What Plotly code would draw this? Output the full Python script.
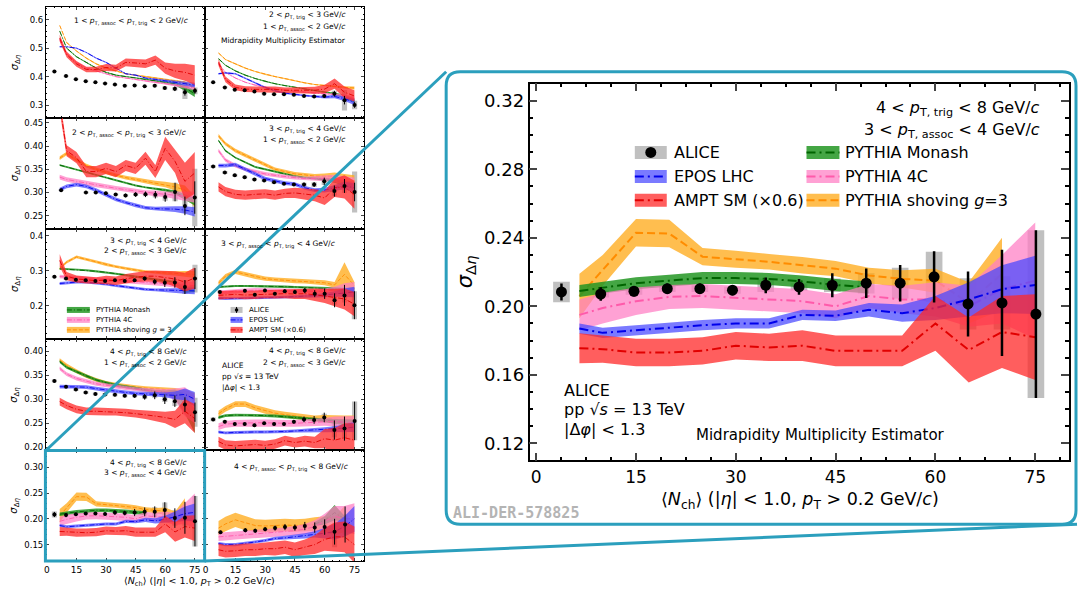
import plotly.graph_objects as go

W, H = 1078, 590
FONT = "DejaVu Sans"
TEAL = "#2b9fbd"

# ---------------- data ----------------
MODEL_X = [6.5, 10, 15, 20, 25, 30, 35, 40, 45, 50, 55, 60, 65, 70, 75]
ALICE_X_FULL = [3.8, 9.7, 14.7, 19.7, 24.6, 29.5, 34.5, 39.5, 44.5, 49.6, 54.7, 59.8, 64.9, 70.0, 75.1]
ALICE_X_SAME = [7.2, 19.8, 24.8, 29.9, 34.9, 39.9, 45.0, 50.0, 55.0, 60.0, 65.0, 70.0, 75.0]
ALICE_X_SAME8 = [7.5, 20.0, 25.0, 30.0, 35.0, 40.0, 45.0, 50.0, 55.0, 60.0, 65.0, 70.3]
P52_MON_X = [55, 60, 65, 70]

# panel (1,1): 1 < pT,assoc < pT,trig < 2
P11_ALICE = [0.418, 0.402, 0.391, 0.384, 0.380, 0.376, 0.372, 0.368, 0.369, 0.366, 0.368, 0.360, 0.357, 0.345, 0.350]
P11_STAT = [0.003, 0.003, 0.003, 0.003, 0.003, 0.003, 0.003, 0.003, 0.003, 0.003, 0.004, 0.005, 0.008, 0.012, 0.010]
P11_SYS = [0.003, 0.003, 0.003, 0.003, 0.003, 0.003, 0.003, 0.003, 0.003, 0.003, 0.004, 0.005, 0.006, 0.024, 0.012]
P11_SHOV = [0.580, 0.520, 0.490, 0.465, 0.445, 0.430, 0.420, 0.410, 0.405, 0.400, 0.395, 0.390, 0.385, 0.380, 0.360]
P11_SHOV_W = [0.002, 0.002, 0.002, 0.002, 0.002, 0.002, 0.002, 0.002, 0.002, 0.002, 0.002, 0.003, 0.003, 0.004, 0.005]
P11_MON = [0.560, 0.500, 0.470, 0.450, 0.430, 0.415, 0.405, 0.400, 0.395, 0.390, 0.385, 0.380, 0.375, 0.360, 0.340]
P11_MON_W = [0.002, 0.002, 0.002, 0.002, 0.002, 0.002, 0.002, 0.002, 0.002, 0.002, 0.002, 0.004, 0.006, 0.010, 0.012]
P11_4C = [0.530, 0.480, 0.450, 0.430, 0.420, 0.410, 0.400, 0.395, 0.390, 0.385, 0.380, 0.375, 0.370, 0.365, 0.360]
P11_4C_W = [0.002, 0.002, 0.002, 0.002, 0.002, 0.002, 0.002, 0.002, 0.002, 0.002, 0.003, 0.003, 0.004, 0.006, 0.008]
P11_EPOS = [0.505, 0.505, 0.500, 0.485, 0.465, 0.450, 0.430, 0.410, 0.405, 0.395, 0.390, 0.385, 0.380, 0.375, 0.370]
P11_EPOS_W = [0.002, 0.002, 0.002, 0.002, 0.002, 0.002, 0.002, 0.002, 0.002, 0.002, 0.003, 0.004, 0.005, 0.006, 0.008]
P11_AMPT = [0.535, 0.478, 0.445, 0.425, 0.425, 0.432, 0.430, 0.450, 0.448, 0.445, 0.458, 0.430, 0.420, 0.415, 0.405]
P11_AMPT_W = [0.012, 0.010, 0.010, 0.010, 0.010, 0.012, 0.012, 0.014, 0.014, 0.015, 0.016, 0.020, 0.025, 0.030, 0.035]

# panel (1,2): 2 < pT,trig < 3, 1 < pT,assoc < 2
P12_ALICE = [0.380, 0.362, 0.354, 0.352, 0.348, 0.340, 0.338, 0.338, 0.336, 0.332, 0.330, 0.332, 0.340, 0.317, 0.300]
P12_STAT = [0.003, 0.003, 0.003, 0.003, 0.003, 0.003, 0.003, 0.003, 0.003, 0.004, 0.004, 0.006, 0.010, 0.015, 0.010]
P12_SYS = [0.003, 0.003, 0.003, 0.003, 0.003, 0.003, 0.003, 0.003, 0.003, 0.003, 0.004, 0.005, 0.010, 0.036, 0.015]
P12_SHOV = [0.483, 0.460, 0.445, 0.430, 0.418, 0.408, 0.400, 0.393, 0.385, 0.378, 0.372, 0.368, 0.365, 0.362, 0.360]
P12_SHOV_W = [0.002, 0.002, 0.002, 0.002, 0.002, 0.002, 0.002, 0.002, 0.002, 0.002, 0.002, 0.003, 0.003, 0.004, 0.005]
P12_MON = [0.463, 0.440, 0.420, 0.405, 0.393, 0.383, 0.375, 0.368, 0.362, 0.356, 0.350, 0.345, 0.340, 0.330, 0.315]
P12_MON_W = [0.002, 0.002, 0.002, 0.002, 0.002, 0.002, 0.002, 0.002, 0.002, 0.002, 0.002, 0.003, 0.004, 0.006, 0.008]
P12_4C = [0.445, 0.415, 0.395, 0.380, 0.370, 0.362, 0.356, 0.352, 0.348, 0.345, 0.342, 0.340, 0.338, 0.332, 0.322]
P12_4C_W = [0.002, 0.002, 0.002, 0.002, 0.002, 0.002, 0.002, 0.002, 0.002, 0.002, 0.003, 0.003, 0.004, 0.006, 0.008]
P12_EPOS = [0.410, 0.413, 0.410, 0.395, 0.378, 0.362, 0.350, 0.342, 0.337, 0.333, 0.330, 0.328, 0.330, 0.322, 0.310]
P12_EPOS_W = [0.003, 0.003, 0.003, 0.003, 0.003, 0.003, 0.003, 0.003, 0.003, 0.003, 0.004, 0.005, 0.006, 0.008, 0.010]
P12_AMPT = [0.450, 0.390, 0.362, 0.356, 0.355, 0.355, 0.355, 0.352, 0.352, 0.352, 0.352, 0.356, 0.375, 0.345, 0.332]
P12_AMPT_W = [0.012, 0.010, 0.010, 0.010, 0.010, 0.010, 0.010, 0.010, 0.010, 0.011, 0.012, 0.015, 0.018, 0.020, 0.020]

# panel (2,1): 2 < pT,assoc < pT,trig < 3
P21_ALICE = [0.305, 0.300, 0.300, 0.2985, 0.2955, 0.2935, 0.2955, 0.296, 0.295, 0.290, 0.301, 0.271, 0.289]
P21_STAT = [0.003, 0.003, 0.003, 0.003, 0.003, 0.004, 0.005, 0.006, 0.008, 0.010, 0.020, 0.020, 0.035]
P21_SYS = [0.002, 0.002, 0.002, 0.002, 0.002, 0.003, 0.003, 0.004, 0.006, 0.008, 0.020, 0.015, 0.062]
P21_SHOV = [0.374, 0.384, 0.370, 0.358, 0.350, 0.343, 0.337, 0.332, 0.328, 0.324, 0.320, 0.317, 0.312, 0.305, 0.280]
P21_SHOV_W = [0.004, 0.004, 0.004, 0.004, 0.004, 0.004, 0.004, 0.004, 0.004, 0.004, 0.005, 0.006, 0.008, 0.010, 0.012]
P21_MON = [0.359, 0.355, 0.350, 0.344, 0.338, 0.332, 0.326, 0.320, 0.315, 0.311, 0.308, 0.305, 0.300, 0.290, 0.280]
P21_MON_W = [0.002, 0.002, 0.002, 0.002, 0.002, 0.002, 0.002, 0.002, 0.002, 0.002, 0.003, 0.003, 0.004, 0.006, 0.008]
P21_4C = [0.333, 0.328, 0.324, 0.320, 0.316, 0.312, 0.309, 0.306, 0.303, 0.300, 0.298, 0.296, 0.294, 0.292, 0.290]
P21_4C_W = [0.005, 0.005, 0.005, 0.005, 0.005, 0.005, 0.005, 0.005, 0.005, 0.005, 0.006, 0.006, 0.008, 0.010, 0.012]
P21_EPOS = [0.306, 0.313, 0.317, 0.313, 0.305, 0.295, 0.285, 0.278, 0.272, 0.267, 0.265, 0.265, 0.264, 0.262, 0.258]
P21_EPOS_W = [0.004, 0.004, 0.004, 0.004, 0.004, 0.004, 0.004, 0.004, 0.004, 0.004, 0.004, 0.005, 0.006, 0.008, 0.010]
P21_AMPT = [0.490, 0.390, 0.375, 0.345, 0.345, 0.352, 0.345, 0.358, 0.352, 0.374, 0.345, 0.395, 0.367, 0.324, 0.342]
P21_AMPT_W = [0.015, 0.012, 0.012, 0.012, 0.012, 0.012, 0.012, 0.012, 0.012, 0.014, 0.014, 0.025, 0.025, 0.040, 0.045]

# panel (2,2): 3 < pT,trig < 4, 1 < pT,assoc < 2
P22_ALICE = [0.356, 0.343, 0.337, 0.333, 0.328, 0.326, 0.322, 0.319, 0.317, 0.317, 0.317, 0.324, 0.303, 0.314, 0.301]
P22_STAT = [0.003, 0.003, 0.003, 0.003, 0.003, 0.003, 0.003, 0.003, 0.003, 0.004, 0.005, 0.008, 0.012, 0.015, 0.020]
P22_SYS = [0.003, 0.003, 0.003, 0.003, 0.003, 0.003, 0.003, 0.003, 0.003, 0.004, 0.005, 0.008, 0.010, 0.015, 0.044]
P22_SHOV = [0.422, 0.405, 0.390, 0.380, 0.370, 0.360, 0.350, 0.345, 0.340, 0.338, 0.335, 0.335, 0.335, 0.330, 0.325]
P22_SHOV_W = [0.004, 0.004, 0.004, 0.004, 0.004, 0.004, 0.004, 0.004, 0.004, 0.004, 0.005, 0.006, 0.008, 0.010, 0.012]
P22_MON = [0.412, 0.390, 0.375, 0.365, 0.355, 0.350, 0.345, 0.340, 0.335, 0.332, 0.330, 0.328, 0.325, 0.320, 0.315]
P22_MON_W = [0.002, 0.002, 0.002, 0.002, 0.002, 0.002, 0.002, 0.002, 0.002, 0.002, 0.003, 0.003, 0.004, 0.006, 0.008]
P22_4C = [0.390, 0.370, 0.358, 0.350, 0.345, 0.340, 0.337, 0.334, 0.332, 0.330, 0.330, 0.330, 0.330, 0.325, 0.320]
P22_4C_W = [0.004, 0.004, 0.004, 0.004, 0.004, 0.004, 0.004, 0.004, 0.004, 0.004, 0.005, 0.006, 0.008, 0.010, 0.012]
P22_EPOS = [0.358, 0.358, 0.360, 0.350, 0.340, 0.330, 0.325, 0.320, 0.318, 0.310, 0.305, 0.305, 0.310, 0.315, 0.310]
P22_EPOS_W = [0.004, 0.004, 0.004, 0.004, 0.004, 0.004, 0.004, 0.004, 0.004, 0.004, 0.004, 0.005, 0.006, 0.008, 0.010]
P22_AMPT = [0.312, 0.302, 0.296, 0.294, 0.296, 0.297, 0.294, 0.298, 0.299, 0.297, 0.294, 0.288, 0.310, 0.312, 0.295]
P22_AMPT_W = [0.010, 0.010, 0.010, 0.010, 0.010, 0.010, 0.010, 0.010, 0.011, 0.012, 0.013, 0.015, 0.020, 0.025, 0.030]

# panel (3,1): 3 < pT,trig < 4, 2 < pT,assoc < 3
P31_ALICE = [0.283, 0.278, 0.275, 0.273, 0.271, 0.271, 0.273, 0.271, 0.273, 0.278, 0.269, 0.266, 0.267, 0.254, 0.278]
P31_STAT = [0.003, 0.003, 0.003, 0.003, 0.003, 0.003, 0.003, 0.003, 0.004, 0.006, 0.008, 0.012, 0.015, 0.020, 0.030]
P31_SYS = [0.003, 0.003, 0.003, 0.003, 0.003, 0.003, 0.003, 0.003, 0.003, 0.004, 0.005, 0.006, 0.010, 0.020, 0.040]
P31_SHOV = [0.307, 0.325, 0.340, 0.333, 0.326, 0.318, 0.312, 0.307, 0.302, 0.298, 0.296, 0.294, 0.293, 0.292, 0.290]
P31_SHOV_W = [0.004, 0.004, 0.004, 0.004, 0.004, 0.004, 0.004, 0.004, 0.004, 0.004, 0.004, 0.005, 0.006, 0.008, 0.010]
P31_MON = [0.306, 0.305, 0.304, 0.302, 0.299, 0.296, 0.292, 0.288, 0.284, 0.280, 0.276, 0.272, 0.265, 0.245, 0.250]
P31_MON_W = [0.003, 0.003, 0.003, 0.003, 0.003, 0.003, 0.003, 0.003, 0.003, 0.003, 0.004, 0.005, 0.006, 0.008, 0.010]
P31_4C = [0.284, 0.282, 0.280, 0.278, 0.276, 0.274, 0.272, 0.270, 0.268, 0.266, 0.264, 0.262, 0.260, 0.258, 0.258]
P31_4C_W = [0.005, 0.005, 0.005, 0.005, 0.005, 0.005, 0.005, 0.005, 0.005, 0.005, 0.006, 0.006, 0.008, 0.010, 0.012]
P31_EPOS = [0.264, 0.266, 0.268, 0.268, 0.266, 0.262, 0.258, 0.254, 0.250, 0.247, 0.246, 0.245, 0.244, 0.243, 0.243]
P31_EPOS_W = [0.004, 0.004, 0.004, 0.004, 0.004, 0.004, 0.004, 0.004, 0.004, 0.004, 0.004, 0.005, 0.006, 0.008, 0.010]
P31_AMPT = [0.330, 0.285, 0.277, 0.274, 0.272, 0.274, 0.272, 0.278, 0.282, 0.285, 0.285, 0.282, 0.277, 0.268, 0.280]
P31_AMPT_W = [0.018, 0.012, 0.010, 0.010, 0.010, 0.012, 0.012, 0.013, 0.014, 0.015, 0.016, 0.018, 0.022, 0.027, 0.030]

# panel (3,2): 3 < pT,assoc < pT,trig < 4
P32_ALICE = [0.240, 0.243, 0.232, 0.244, 0.235, 0.242, 0.240, 0.244, 0.235, 0.235, 0.216, 0.230, 0.202]
P32_STAT = [0.003, 0.004, 0.004, 0.004, 0.004, 0.005, 0.006, 0.008, 0.010, 0.015, 0.020, 0.030, 0.040]
P32_SYS = [0.004, 0.003, 0.003, 0.003, 0.003, 0.003, 0.004, 0.005, 0.006, 0.008, 0.012, 0.020, 0.040]
P32_SHOV = [0.265, 0.285, 0.297, 0.290, 0.283, 0.278, 0.275, 0.273, 0.271, 0.270, 0.268, 0.266, 0.260, 0.290, 0.258]
P32_SHOV_W = [0.006, 0.006, 0.006, 0.006, 0.006, 0.006, 0.006, 0.006, 0.006, 0.006, 0.006, 0.007, 0.008, 0.035, 0.010]
P32_MON = [0.254, 0.256, 0.257, 0.257, 0.257, 0.257, 0.256, 0.255, 0.254, 0.253, 0.252, 0.250, 0.248, 0.246, 0.244]
P32_MON_W = [0.003, 0.003, 0.003, 0.003, 0.003, 0.003, 0.003, 0.003, 0.003, 0.003, 0.003, 0.004, 0.005, 0.006, 0.008]
P32_4C = [0.238, 0.240, 0.242, 0.244, 0.245, 0.245, 0.245, 0.244, 0.243, 0.242, 0.242, 0.242, 0.245, 0.250, 0.248]
P32_4C_W = [0.006, 0.006, 0.006, 0.006, 0.006, 0.006, 0.006, 0.006, 0.006, 0.006, 0.007, 0.008, 0.010, 0.015, 0.020]
P32_EPOS = [0.222, 0.221, 0.221, 0.222, 0.222, 0.223, 0.224, 0.225, 0.226, 0.227, 0.229, 0.231, 0.234, 0.238, 0.240]
P32_EPOS_W = [0.004, 0.004, 0.004, 0.004, 0.004, 0.004, 0.004, 0.004, 0.004, 0.004, 0.005, 0.006, 0.008, 0.012, 0.015]
P32_AMPT = [0.230, 0.232, 0.233, 0.231, 0.232, 0.234, 0.233, 0.235, 0.234, 0.235, 0.232, 0.228, 0.225, 0.220, 0.205]
P32_AMPT_W = [0.012, 0.012, 0.012, 0.012, 0.012, 0.012, 0.012, 0.013, 0.014, 0.015, 0.018, 0.020, 0.025, 0.030, 0.035]

# panel (4,1): 4 < pT,trig < 8, 1 < pT,assoc < 2
P41_ALICE = [0.338, 0.326, 0.320, 0.314, 0.311, 0.310, 0.309, 0.307, 0.307, 0.305, 0.308, 0.300, 0.296, 0.289, 0.273]
P41_STAT = [0.003, 0.003, 0.003, 0.003, 0.003, 0.003, 0.003, 0.003, 0.004, 0.006, 0.008, 0.010, 0.012, 0.015, 0.020]
P41_SYS = [0.003, 0.003, 0.003, 0.003, 0.003, 0.003, 0.003, 0.003, 0.003, 0.004, 0.005, 0.006, 0.010, 0.020, 0.030]
P41_SHOV = [0.381, 0.370, 0.358, 0.348, 0.340, 0.334, 0.330, 0.327, 0.325, 0.323, 0.322, 0.320, 0.317, 0.312, 0.305]
P41_SHOV_W = [0.004, 0.004, 0.004, 0.004, 0.004, 0.004, 0.004, 0.004, 0.004, 0.004, 0.004, 0.005, 0.006, 0.007, 0.008]
P41_MON = [0.378, 0.366, 0.357, 0.348, 0.340, 0.334, 0.329, 0.326, 0.322, 0.319, 0.316, 0.314, 0.310, 0.290, 0.255]
P41_MON_W = [0.003, 0.003, 0.003, 0.003, 0.003, 0.003, 0.003, 0.003, 0.003, 0.003, 0.003, 0.004, 0.010, 0.020, 0.025]
P41_4C = [0.364, 0.352, 0.343, 0.337, 0.332, 0.329, 0.326, 0.323, 0.321, 0.319, 0.317, 0.315, 0.310, 0.295, 0.280]
P41_4C_W = [0.004, 0.004, 0.004, 0.004, 0.004, 0.004, 0.004, 0.004, 0.004, 0.004, 0.005, 0.006, 0.012, 0.030, 0.030]
P41_EPOS = [0.326, 0.326, 0.326, 0.325, 0.322, 0.319, 0.316, 0.314, 0.312, 0.311, 0.310, 0.309, 0.308, 0.310, 0.300]
P41_EPOS_W = [0.004, 0.004, 0.004, 0.004, 0.004, 0.004, 0.004, 0.004, 0.004, 0.004, 0.004, 0.005, 0.008, 0.012, 0.015]
P41_AMPT = [0.295, 0.287, 0.279, 0.275, 0.275, 0.274, 0.274, 0.272, 0.270, 0.268, 0.265, 0.262, 0.258, 0.275, 0.260]
P41_AMPT_W = [0.008, 0.008, 0.008, 0.008, 0.008, 0.008, 0.008, 0.008, 0.008, 0.009, 0.010, 0.012, 0.018, 0.025, 0.030]

# panel (4,2): 4 < pT,trig < 8, 2 < pT,assoc < 3
P42_ALICE = [0.258, 0.253, 0.2485, 0.2485, 0.246, 0.250, 0.2485, 0.2485, 0.253, 0.258, 0.257, 0.262, 0.236, 0.239, 0.255]
P42_STAT = [0.003, 0.003, 0.003, 0.003, 0.003, 0.003, 0.003, 0.003, 0.004, 0.006, 0.008, 0.010, 0.020, 0.025, 0.040]
P42_SYS = [0.004, 0.003, 0.003, 0.003, 0.003, 0.003, 0.003, 0.003, 0.003, 0.004, 0.005, 0.008, 0.015, 0.020, 0.040]
P42_SHOV = [0.270, 0.280, 0.290, 0.290, 0.282, 0.276, 0.271, 0.268, 0.265, 0.262, 0.260, 0.260, 0.258, 0.257, 0.256]
P42_SHOV_W = [0.006, 0.006, 0.006, 0.006, 0.006, 0.006, 0.006, 0.006, 0.006, 0.006, 0.006, 0.007, 0.008, 0.009, 0.010]
P42_MON = [0.262, 0.266, 0.267, 0.267, 0.267, 0.266, 0.265, 0.264, 0.262, 0.260, 0.258, 0.256, 0.254, 0.252, 0.250]
P42_MON_W = [0.003, 0.003, 0.003, 0.003, 0.003, 0.003, 0.003, 0.003, 0.003, 0.003, 0.003, 0.004, 0.005, 0.006, 0.008]
P42_4C = [0.243, 0.248, 0.250, 0.251, 0.251, 0.251, 0.250, 0.250, 0.250, 0.251, 0.252, 0.253, 0.254, 0.252, 0.250]
P42_4C_W = [0.007, 0.007, 0.007, 0.007, 0.007, 0.007, 0.007, 0.007, 0.007, 0.007, 0.008, 0.008, 0.010, 0.012, 0.015]
P42_EPOS = [0.232, 0.230, 0.231, 0.232, 0.232, 0.232, 0.232, 0.233, 0.234, 0.235, 0.236, 0.237, 0.238, 0.240, 0.242]
P42_EPOS_W = [0.003, 0.003, 0.003, 0.003, 0.003, 0.003, 0.003, 0.003, 0.003, 0.003, 0.004, 0.005, 0.006, 0.008, 0.010]
P42_AMPT = [0.212, 0.205, 0.203, 0.204, 0.206, 0.204, 0.207, 0.214, 0.210, 0.213, 0.210, 0.218, 0.215, 0.220, 0.215]
P42_AMPT_W = [0.010, 0.010, 0.010, 0.010, 0.010, 0.010, 0.010, 0.010, 0.010, 0.011, 0.012, 0.020, 0.025, 0.030, 0.035]

# panel (5,1) and the enlarged panel: 4 < pT,trig < 8, 3 < pT,assoc < 4
P51_ALICE = [0.2084, 0.2072, 0.2088, 0.2103, 0.2103, 0.2094, 0.2123, 0.2113, 0.2123, 0.2135, 0.2135, 0.2172, 0.2014, 0.2020, 0.1955]
P51_STAT = [0.0050, 0.0040, 0.0030, 0.0030, 0.0030, 0.0030, 0.0046, 0.0046, 0.0070, 0.0086, 0.0107, 0.0150, 0.0190, 0.0310, 0.0490]
P51_SYS = [0.0060, 0.0020, 0.0020, 0.0020, 0.0020, 0.0020, 0.0040, 0.0020, 0.0040, 0.0060, 0.0090, 0.0146, 0.0150, 0.0155, 0.0490]
P51_SHOV = [0.206, 0.221, 0.243, 0.2425, 0.229, 0.2275, 0.226, 0.224, 0.222, 0.218, 0.216, 0.215, 0.202, 0.219]
P51_SHOV_W = [0.013, 0.009, 0.008, 0.008, 0.005, 0.005, 0.0045, 0.0048, 0.0045, 0.0045, 0.005, 0.007, 0.012, 0.021]
P51_MON = [0.209, 0.211, 0.2135, 0.215, 0.2165, 0.2165, 0.216, 0.2145, 0.2125, 0.211]
P51_MON_W = [0.0035, 0.0035, 0.0035, 0.0035, 0.0035, 0.0035, 0.0035, 0.0035, 0.0035, 0.0035]
P51_4C = [0.195, 0.199, 0.203, 0.2055, 0.206, 0.205, 0.204, 0.203, 0.200, 0.206, 0.204, 0.204, 0.200, 0.210, 0.215]
P51_4C_W = [0.009, 0.009, 0.008, 0.007, 0.007, 0.007, 0.007, 0.007, 0.007, 0.007, 0.008, 0.010, 0.012, 0.020, 0.034]
P51_EPOS = [0.187, 0.1845, 0.186, 0.1875, 0.189, 0.190, 0.190, 0.195, 0.1945, 0.198, 0.196, 0.199, 0.204, 0.210, 0.2125]
P51_EPOS_W = [0.003, 0.003, 0.003, 0.003, 0.003, 0.003, 0.003, 0.003, 0.003, 0.004, 0.005, 0.007, 0.010, 0.014, 0.017]
P51_AMPT = [0.1755, 0.175, 0.173, 0.173, 0.174, 0.177, 0.176, 0.177, 0.174, 0.174, 0.174, 0.190, 0.1745, 0.185, 0.182]
P51_AMPT_W = [0.0088, 0.008, 0.008, 0.008, 0.008, 0.008, 0.008, 0.009, 0.009, 0.009, 0.009, 0.016, 0.019, 0.021, 0.025]

# panel (5,2): 4 < pT,assoc < pT,trig < 8
P52_ALICE = [0.174, 0.178, 0.177, 0.180, 0.182, 0.184, 0.183, 0.186, 0.183, 0.184, 0.175, 0.189]
P52_STAT = [0.003, 0.004, 0.004, 0.004, 0.005, 0.006, 0.006, 0.008, 0.010, 0.015, 0.025, 0.035]
P52_SYS = [0.003, 0.003, 0.003, 0.003, 0.003, 0.003, 0.003, 0.004, 0.005, 0.008, 0.030, 0.020]
P52_SHOV = [0.182, 0.190, 0.198, 0.192, 0.187, 0.186, 0.187, 0.188, 0.187, 0.188, 0.190, 0.190, 0.185, 0.200]
P52_SHOV_W = [0.014, 0.014, 0.014, 0.014, 0.012, 0.012, 0.012, 0.012, 0.012, 0.012, 0.013, 0.015, 0.018, 0.025]
P52_MON = [0.190, 0.197, 0.212, 0.200]
P52_MON_W = [0.004, 0.008, 0.015, 0.006]
P52_4C = [0.165, 0.166, 0.168, 0.170, 0.171, 0.172, 0.173, 0.175, 0.177, 0.180, 0.185, 0.195, 0.205, 0.200, 0.200]
P52_4C_W = [0.008, 0.008, 0.008, 0.008, 0.008, 0.008, 0.008, 0.008, 0.009, 0.010, 0.012, 0.015, 0.020, 0.025, 0.030]
P52_EPOS = [0.152, 0.150, 0.150, 0.152, 0.155, 0.158, 0.162, 0.163, 0.165, 0.167, 0.170, 0.172, 0.175, 0.185, 0.200]
P52_EPOS_W = [0.003, 0.003, 0.003, 0.003, 0.003, 0.003, 0.003, 0.004, 0.004, 0.005, 0.006, 0.010, 0.015, 0.020, 0.025]
P52_AMPT = [0.140, 0.137, 0.138, 0.140, 0.140, 0.142, 0.142, 0.145, 0.140, 0.145, 0.150, 0.160, 0.165, 0.165, 0.150]
P52_AMPT_W = [0.012, 0.012, 0.012, 0.012, 0.012, 0.012, 0.013, 0.013, 0.014, 0.015, 0.018, 0.022, 0.028, 0.030, 0.035]

ROW_YRANGE = [[0.255, 0.645], [0.222, 0.461], [0.104, 0.421], [0.194, 0.424], [0.118, 0.333]]
BIG_YRANGE = [0.11, 0.33]
X_TICKS = [0, 15, 30, 45, 60, 75]

# ---------------- layout helpers ----------------
def px(x):
    return x / W


def py(y):
    return 1 - y / H


DASHDOT = "9px,4px,2px,4px"
DASHDOT_S = "5px,2px,1px,2px"
STYLE = {
    "shov": ("rgba(255,172,30,0.78)", "rgb(255,140,0)", "8px,4px", "4px,2px"),
    "mon": ("rgba(35,150,35,0.85)", "rgb(0,100,0)", DASHDOT, DASHDOT_S),
    "4c": ("rgba(255,125,195,0.72)", "rgb(255,90,170)", DASHDOT, DASHDOT_S),
    "epos": ("rgba(70,70,255,0.72)", "rgb(0,0,235)", DASHDOT, DASHDOT_S),
    "ampt": ("rgba(255,40,40,0.75)", "rgb(225,0,0)", DASHDOT, DASHDOT_S),
}

COL_X = [(44, 203), (203, 363)]
ROW_TOP = [7, 118.2, 229.4, 340.6, 451.8]
ROW_H = 111.2
ROW_DTICK = [0.1, 0.05, 0.1, 0.05, 0.05]
ROW_MINOR = [0.02, 0.01, 0.02, 0.01, 0.01]
ROW_FMT = [".1f", ".2f", ".1f", ".2f", ".2f"]


def models(pre, mon_x=None):
    g = globals()
    return [
        ("shov", MODEL_X, g[pre + "_SHOV"], g[pre + "_SHOV_W"]),
        ("mon", mon_x if mon_x else MODEL_X, g[pre + "_MON"], g[pre + "_MON_W"]),
        ("4c", MODEL_X, g[pre + "_4C"], g[pre + "_4C_W"]),
        ("epos", MODEL_X, g[pre + "_EPOS"], g[pre + "_EPOS_W"]),
        ("ampt", MODEL_X, g[pre + "_AMPT"], g[pre + "_AMPT_W"]),
    ]


PANELS = [
    (0, 0, ALICE_X_FULL, P11_ALICE, P11_STAT, P11_SYS, models("P11")),
    (0, 1, ALICE_X_FULL, P12_ALICE, P12_STAT, P12_SYS, models("P12")),
    (1, 0, ALICE_X_SAME, P21_ALICE, P21_STAT, P21_SYS, models("P21")),
    (1, 1, ALICE_X_FULL, P22_ALICE, P22_STAT, P22_SYS, models("P22")),
    (2, 0, ALICE_X_FULL, P31_ALICE, P31_STAT, P31_SYS, models("P31")),
    (2, 1, ALICE_X_SAME, P32_ALICE, P32_STAT, P32_SYS, models("P32")),
    (3, 0, ALICE_X_FULL, P41_ALICE, P41_STAT, P41_SYS, models("P41")),
    (3, 1, ALICE_X_FULL, P42_ALICE, P42_STAT, P42_SYS, models("P42")),
    (4, 0, ALICE_X_FULL, P51_ALICE, P51_STAT, P51_SYS, models("P51", MODEL_X[:10])),
    (4, 1, ALICE_X_SAME8, P52_ALICE, P52_STAT, P52_SYS, models("P52", P52_MON_X)),
]

fig = go.Figure()


def refs(i):
    return ("x" if i == 1 else f"x{i}"), ("y" if i == 1 else f"y{i}")


def draw_panel(i, ax, ay, stat, sys, mods, big):
    xr, yr = refs(i)
    for key, mx, c, w in mods:
        fill, line, dash_b, dash_s = STYLE[key]
        xs = list(mx)[:len(c)]
        up = [a + b for a, b in zip(c, w)]
        lo = [a - b for a, b in zip(c, w)]
        fig.add_trace(go.Scatter(x=xs + xs[::-1], y=up + lo[::-1], fill="toself", fillcolor=fill,
                                 mode="lines", line=dict(width=0, color=fill), xaxis=xr, yaxis=yr,
                                 hoverinfo="skip", showlegend=False))
        fig.add_trace(go.Scatter(x=xs, y=c, mode="lines",
                                 line=dict(color=line, width=2 if big else 0.9, dash=dash_b if big else dash_s),
                                 xaxis=xr, yaxis=yr, hoverinfo="skip", showlegend=False))
    fig.add_trace(go.Bar(x=ax, y=[2 * s for s in sys], base=[a - s for a, s in zip(ay, sys)],
                         width=2.5 if big else 2.6,
                         marker=dict(color="rgba(150,150,150,0.6)", line=dict(width=0)),
                         xaxis=xr, yaxis=yr, hoverinfo="skip", showlegend=False))
    fig.add_trace(go.Scatter(x=ax, y=ay, mode="markers",
                             marker=dict(color="black", size=11 if big else 4),
                             error_y=dict(type="data", array=stat, color="black",
                                          thickness=2.5 if big else 1, width=0),
                             xaxis=xr, yaxis=yr, hoverinfo="skip", showlegend=False))


layout_axes = {}
for k, (r, c, ax, ay, st, sy, mods) in enumerate(PANELS):
    i = k + 1
    draw_panel(i, ax, ay, st, sy, mods, False)
    xn = "xaxis" if i == 1 else f"xaxis{i}"
    yn = "yaxis" if i == 1 else f"yaxis{i}"
    x0, x1 = COL_X[c]
    top = ROW_TOP[r]
    layout_axes[xn] = dict(
        domain=[px(x0), px(x1)], anchor=refs(i)[1], range=[-0.5, 80],
        tickvals=X_TICKS, showticklabels=(r == 4), ticks="inside", ticklen=3,
        mirror="allticks", showline=True, linecolor="black", linewidth=1, showgrid=False,
        zeroline=False, tickfont=dict(family=FONT, size=9, color="black"),
        minor=dict(ticks="inside", ticklen=1.5, dtick=3.75, tick0=0, tickcolor="black"),
    )
    layout_axes[yn] = dict(
        domain=[py(top + ROW_H), py(top)], anchor=refs(i)[0], range=ROW_YRANGE[r],
        dtick=ROW_DTICK[r], tick0=0, tickformat=ROW_FMT[r], showticklabels=(c == 0),
        ticks="inside", ticklen=3, mirror="allticks", showline=True, linecolor="black",
        linewidth=1, showgrid=False, zeroline=False,
        tickfont=dict(family=FONT, size=8.5, color="black"),
        minor=dict(ticks="inside", ticklen=1.5, dtick=ROW_MINOR[r], tick0=0, tickcolor="black"),
    )

# big panel
BI = 11
draw_panel(BI, ALICE_X_FULL, P51_ALICE, P51_STAT, P51_SYS, models("P51", MODEL_X[:10]), True)
layout_axes["xaxis11"] = dict(
    domain=[px(528.5), px(1068.5)], anchor="y11", range=[-1, 80], tickvals=X_TICKS,
    ticks="inside", ticklen=8, tickwidth=1.5, mirror="allticks", showline=True, linecolor="black",
    linewidth=1.5, showgrid=False, zeroline=False, tickfont=dict(family=FONT, size=17, color="black"),
    minor=dict(ticks="inside", ticklen=4, dtick=3.75, tick0=0, tickcolor="black"),
)
layout_axes["yaxis11"] = dict(
    domain=[py(462), py(84)], anchor="x11", range=BIG_YRANGE, dtick=0.04, tick0=0,
    tickformat=".2f", ticks="inside", ticklen=8, tickwidth=1.5, mirror="allticks", showline=True,
    linecolor="black", linewidth=1.5, showgrid=False, zeroline=False,
    tickfont=dict(family=FONT, size=18, color="black"),
    minor=dict(ticks="inside", ticklen=4, dtick=0.01, tick0=0, tickcolor="black"),
)

# ---------------- annotations ----------------
ann = []


def text(x, y, s, size, xanchor="left", color="black", angle=0, family=FONT):
    ann.append(dict(x=px(x), y=py(y), xref="paper", yref="paper", text=s, showarrow=False,
                    xanchor=xanchor, yanchor="middle", textangle=angle,
                    font=dict(family=family, size=size, color=color)))


PT = "<i>p</i><sub>T, {}</sub>"
def rng(a, mid, b):
    return f"{a} < {mid} < {b} GeV/<i>c</i>"

SIG = "<i>σ</i><sub>Δ<i>η</i></sub>"
XT = "⟨<i>N</i><sub>ch</sub>⟩ (|<i>η</i>| < 1.0, <i>p</i><sub>T</sub> > 0.2 GeV/<i>c</i>)"

s = 7.5
text(130, 22, f"1 < {PT.format('assoc')} < {PT.format('trig')} < 2 GeV/<i>c</i>", s, "center")
text(347, 16, rng(2, PT.format("trig"), 3), s, "right")
text(347, 27, rng(1, PT.format("assoc"), 2), s, "right")
text(347, 41, "Midrapidity Multiplicity Estimator", s, "right")
text(128, 134, f"2 < {PT.format('assoc')} < {PT.format('trig')} < 3 GeV/<i>c</i>", s, "center")
text(347, 130, rng(3, PT.format("trig"), 4), s, "right")
text(347, 140, rng(1, PT.format("assoc"), 2), s, "right")
text(187, 242, rng(3, PT.format("trig"), 4), s, "right")
text(187, 252, rng(2, PT.format("assoc"), 3), s, "right")
text(277, 245, f"3 < {PT.format('assoc')} < {PT.format('trig')} < 4 GeV/<i>c</i>", s, "center")
text(187, 354, rng(4, PT.format("trig"), 8), s, "right")
text(187, 364, rng(1, PT.format("assoc"), 2), s, "right")
text(347, 353, rng(4, PT.format("trig"), 8), s, "right")
text(347, 364, rng(2, PT.format("assoc"), 3), s, "right")
text(218, 367, "ALICE", s)
text(218, 378, "pp √<i>s</i> = 13 TeV", s)
text(218, 389, "|Δ<i>φ</i>| < 1.3", s)
text(187, 465, rng(4, PT.format("trig"), 8), s, "right")
text(187, 475, rng(3, PT.format("assoc"), 4), s, "right")
text(290, 469, f"4 < {PT.format('assoc')} < {PT.format('trig')} < 8 GeV/<i>c</i>", s, "center")

for r in range(5):
    text(13, ROW_TOP[r] + ROW_H / 2, SIG, 10, "center", angle=-90)
text(198, 583, XT, 9.5, "center")

# big panel text
text(1042, 109, rng(4, PT.format("trig"), 8), 16, "right")
text(1042, 131, rng(3, PT.format("assoc"), 4), 16, "right")
text(561, 392, "ALICE", 16)
text(561, 411, "pp √<i>s</i> = 13 TeV", 16)
text(561, 431, "|Δ<i>φ</i>| < 1.3", 16)
text(820, 436, "Midrapidity Multiplicity Estimator", 15, "center")
text(465, 273, SIG, 21, "center", angle=-90)
text(799, 502, XT, 17.5, "center")
text(450, 515, "<b>ALI-DER-578825</b>", 15, color="#b4b4b4", family="DejaVu Sans Mono")

# ---------------- shapes (legends, zoom frame) ----------------
shapes = []


def rect(x0, y0, x1, y1, fill, line_color=None, lw=0, layer="above"):
    shapes.append(dict(type="rect", xref="paper", yref="paper", x0=px(x0), x1=px(x1), y0=py(y1), y1=py(y0),
                       fillcolor=fill, line=dict(width=lw, color=line_color or fill), layer=layer))


def seg(x0, y0, x1, y1, color, lw, dash="solid"):
    shapes.append(dict(type="line", xref="paper", yref="paper", x0=px(x0), y0=py(y0), x1=px(x1), y1=py(y1),
                       line=dict(color=color, width=lw, dash=dash), layer="above"))


def circle(cx, cy, rad, color):
    shapes.append(dict(type="circle", xref="paper", yref="paper", x0=px(cx - rad), x1=px(cx + rad),
                       y0=py(cy + rad), y1=py(cy - rad), fillcolor=color, line=dict(width=0), layer="above"))


def model_swatch(x0, x1, y, hh, key, big):
    fill, line, dash_b, dash_s = STYLE[key]
    rect(x0, y - hh, x1, y + hh, fill)
    seg(x0, y, x1, y, line, 2 if big else 1, dash_b if big else dash_s)


# big legend
LEG_ROWS = [153, 177, 201]
rect(634, LEG_ROWS[0] - 6.5, 666, LEG_ROWS[0] + 6.5, "rgba(150,150,150,0.6)")
circle(650, LEG_ROWS[0], 5.5, "black")
text(671, LEG_ROWS[0], "ALICE", 16)
model_swatch(634, 666, LEG_ROWS[1], 6.5, "epos", True)
text(671, LEG_ROWS[1], "EPOS LHC", 16)
model_swatch(634, 666, LEG_ROWS[2], 6.5, "ampt", True)
text(671, LEG_ROWS[2], "AMPT SM (×0.6)", 16)
model_swatch(806, 839, LEG_ROWS[0], 6.5, "mon", True)
text(843, LEG_ROWS[0], "PYTHIA Monash", 16)
model_swatch(806, 839, LEG_ROWS[1], 6.5, "4c", True)
text(843, LEG_ROWS[1], "PYTHIA 4C", 16)
model_swatch(806, 839, LEG_ROWS[2], 6.5, "shov", True)
text(843, LEG_ROWS[2], "PYTHIA shoving <i>g</i>=3", 16)

# small legends
SL_ROWS = [311, 321, 331]
model_swatch(65, 88, SL_ROWS[0], 3, "mon", False)
text(92, SL_ROWS[0], "PYTHIA Monash", 7)
model_swatch(65, 88, SL_ROWS[1], 3, "4c", False)
text(92, SL_ROWS[1], "PYTHIA 4C", 7)
model_swatch(65, 88, SL_ROWS[2], 3, "shov", False)
text(92, SL_ROWS[2], "PYTHIA shoving <i>g</i> = 3", 7)
rect(229, SL_ROWS[0] - 3, 241, SL_ROWS[0] + 3, "rgba(150,150,150,0.6)")
circle(235, SL_ROWS[0], 1.8, "black")
seg(235, SL_ROWS[0] - 3, 235, SL_ROWS[0] + 3, "black", 1)
text(245, SL_ROWS[0], "ALICE", 7)
model_swatch(229, 241, SL_ROWS[1], 3, "epos", False)
text(245, SL_ROWS[1], "EPOS LHC", 7)
model_swatch(229, 241, SL_ROWS[2], 3, "ampt", False)
text(245, SL_ROWS[2], "AMPT SM (×0.6)", 7)

# zoom frame
rect(43.5, 452, 203, 563, "rgba(0,0,0,0)", TEAL, 3)
seg(44, 452, 445, 72, TEAL, 3)
seg(203, 563, 1077, 526, TEAL, 3)
L, T, R, B, rr = 445, 72, 1076, 526, 14
path = (f"M {px(L + rr)},{py(T)} L {px(R - rr)},{py(T)} Q {px(R)},{py(T)} {px(R)},{py(T + rr)} "
        f"L {px(R)},{py(B - rr)} Q {px(R)},{py(B)} {px(R - rr)},{py(B)} L {px(L + rr)},{py(B)} "
        f"Q {px(L)},{py(B)} {px(L)},{py(B - rr)} L {px(L)},{py(T + rr)} Q {px(L)},{py(T)} {px(L + rr)},{py(T)} Z")
shapes.append(dict(type="path", xref="paper", yref="paper", path=path, line=dict(color=TEAL, width=3),
                   fillcolor="rgba(0,0,0,0)", layer="above"))

fig.update_layout(
    width=W, height=H, margin=dict(l=0, r=0, t=0, b=0), autosize=False,
    paper_bgcolor="white", plot_bgcolor="rgba(0,0,0,0)", barmode="overlay", showlegend=False,
    font=dict(family=FONT, color="black"), annotations=ann, shapes=shapes, **layout_axes,
)

fig.write_html("out.html")
